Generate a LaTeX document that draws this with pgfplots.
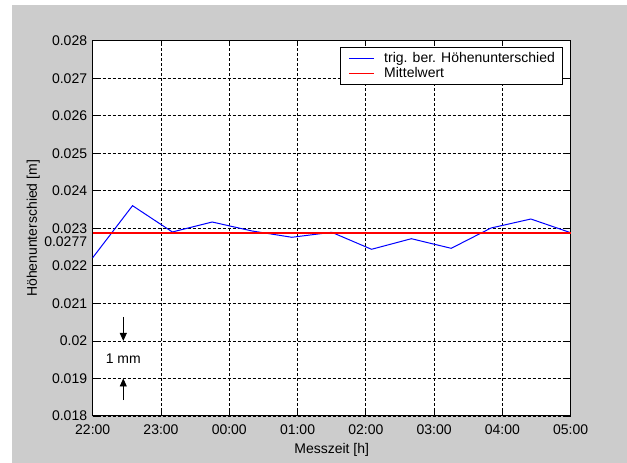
\documentclass[border=0pt]{standalone}
\usepackage{fontspec}
\setmainfont{Liberation Sans}
\usepackage{pgfplots}
\pgfplotsset{compat=1.18}
\usetikzlibrary{arrows.meta}
\definecolor{figgray}{RGB}{204,204,204}
\definecolor{mred}{RGB}{255,0,0}
\definecolor{mblue}{RGB}{0,0,255}
\begin{document}
\begin{tikzpicture}[x=1pt,y=1pt]
\fill[white] (0,0) rectangle (627,463);
\fill[figgray] (12,0) rectangle (627,458);
\begin{axis}[
  at={(92.7pt,47pt)}, anchor=south west,
  scale only axis, width=478pt, height=375.3pt,
  xmin=0, xmax=7, ymin=0.018, ymax=0.028,
  clip=false,
  axis background/.style={fill=white},
  xtick={0,1,2,3,4,5,6,7},
  xticklabels={22:00,23:00,00:00,01:00,02:00,03:00,04:00,05:00},
  ytick={0.018,0.019,0.020,0.021,0.022,0.023,0.024,0.025,0.026,0.027,0.028},
  yticklabels={0.018,0.019,0.02,0.021,0.022,0.023,0.024,0.025,0.026,0.027,0.028},
  scaled y ticks=false,
  grid=major,
  major grid style={black, dash pattern=on 3pt off 2pt, line width=0.8pt},
  axis line style={black, line width=1pt},
  tick align=inside, major tick length=5pt,
  tick style={black, line width=0.8pt},
  every tick label/.append style={font=\fontsize{14}{16}\selectfont},
  xticklabel style={anchor=base, inner sep=0pt, yshift=-18.3pt},
  yticklabel style={anchor=east, inner sep=0pt, xshift=-5.4pt},
  xlabel={Messzeit [h]},
  ylabel={Höhenunterschied [m]},
  xlabel style={at={(axis description cs:0.5,-0.0994)}, anchor=base, inner sep=0pt, font=\fontsize{14}{16}\selectfont},
  ylabel style={at={(axis description cs:-0.1102,0.5)}, anchor=south, inner sep=0pt, font=\fontsize{14}{16}\selectfont},
  legend cell align=left,
  legend image code/.code={\draw[#1] (0pt,0pt) -- (25pt,0pt);},
  legend style={at={(1,1)}, anchor=north east, xshift=-7.4pt, yshift=-6.6pt,
    draw=black, fill=white, line width=0.8pt, inner xsep=8pt, inner ysep=5pt,
    nodes={inner sep=0pt}, row sep=3.5pt,
    /tikz/every odd column/.append style={column sep=9pt},
    font=\fontsize{14}{16}\selectfont},
]
\addplot[color=mblue, line width=1pt] coordinates {
  (0.00000,0.022218)
  (0.58333,0.023604)
  (1.16667,0.022903)
  (1.75000,0.023169)
  (2.33333,0.022930)
  (2.91667,0.022762)
  (3.50000,0.022895)
  (4.08333,0.022442)
  (4.66667,0.022724)
  (5.25000,0.022468)
  (5.83333,0.023009)
  (6.41667,0.023249)
  (7.00000,0.022884)
};
\addlegendentry{trig. ber. Höhenunterschied}
\addplot[color=mred, line width=1.6pt] coordinates {(0,0.02287) (7,0.02287)};
\addlegendentry{Mittelwert}
\node[anchor=east, inner sep=0pt, xshift=-5.4pt, yshift=-8.5pt, font=\fontsize{14}{16}\selectfont] at (axis cs:0,0.02287) {0.0277};
\draw[line width=0.9pt, -{Triangle[length=8pt,width=7pt]}] (axis cs:0.448,0.020638) -- (axis cs:0.448,0.0200);
\draw[line width=0.9pt, -{Triangle[length=8pt,width=7pt]}] (axis cs:0.448,0.018426) -- (axis cs:0.448,0.0190);
\node[font=\fontsize{14}{16}\selectfont] at (axis cs:0.448,0.019537) {1 mm};
\end{axis}
\pgfresetboundingbox
\useasboundingbox (0,0) rectangle (627,463);
\end{tikzpicture}
\end{document}
